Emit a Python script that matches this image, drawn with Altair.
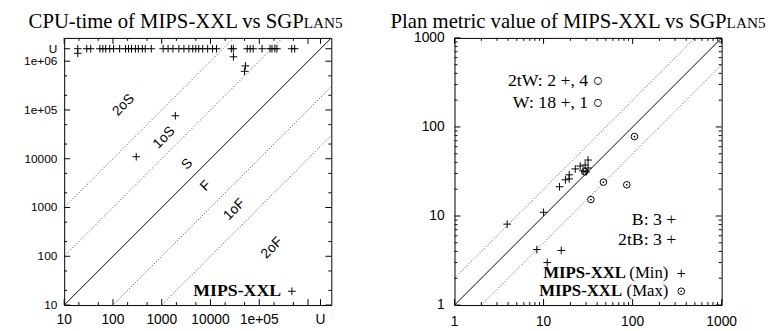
import altair as alt
import pandas as pd

U = 1.8e6

# ---------------- Left panel: CPU-time ----------------
cpu_u_row_x = [19, 29, 35, 54, 62, 71, 86, 103, 137, 181, 208, 240, 289, 332, 400, 460, 610,
               1070, 1350, 1700, 2250, 2850, 3600, 4330, 4990, 5740, 6920, 8740, 11000, 13300,
               26800, 29400, 56600, 65000, 74800, 114000, 166000, 182000, 209000, 230000,
               462000, 532000]
cpu_x = [19, 29500, 52000, 50000, 1900, 300]
cpu_y = [1.45e6, 1.23e6, 8.0e5, 6.2e5, 76000, 11000]
cpu_zone_text = ["2oS", "1oS", "S", "F", "1oF", "2oF"]
cpu_zone_x = [165, 1120, 3320, 7950, 31000, 182000]
cpu_zone_y = [126000, 27000, 7760, 2760, 910, 148]
cpu_factors = [100, 10, 0.1, 0.01]
cpu_domain = [10, 3e6]
cpu_tick_major = [10, 100, 1000, 10000, 1e5, 1e6, U]
cpu_tick_minor = [20, 50, 200, 500, 2000, 5000, 20000, 50000, 2e5, 5e5]
cpu_xlabel_vals = [10, 100, 1000, 10000, 1e5, U]
cpu_xlabels = ["10", "100", "1000", "10000", "1e+05", "U"]
cpu_ylabel_vals = [10, 100, 1000, 10000, 1e5, 1e6, U]
cpu_ylabels = ["10", "100", "1000", "10000", "1e+05", "1e+06", "U"]

# ---------------- Right panel: plan metric ----------------
min_x = [3.9, 10, 8.4, 15.8, 11, 15.1, 17.6, 19.4, 19.4, 22.7, 25.8, 27.8, 29.3, 31.6, 31.6, 30]
min_y = [8.1, 11, 4.2, 4.1, 3.0, 21.3, 25.5, 29.0, 26.1, 33.8, 36.4, 32.1, 37.4, 42.5, 34.6, 31.3]
max_x = [105, 47, 34, 86, 29]
max_y = [78, 24, 15.3, 22.4, 31.5]
plan_factors = [2, 0.5]
plan_domain = [1, 1000]
plan_tick_major = [1, 10, 100, 1000]
plan_tick_minor = [2, 3, 4, 5, 6, 7, 8, 9, 20, 30, 40, 50, 60, 70, 80, 90,
                   200, 300, 400, 500, 600, 700, 800, 900]
plan_label_vals = [1, 10, 100, 1000]
plan_labels = ["1", "10", "100", "1000"]

W = H = 271
SERIF = "Liberation Serif"
SANS = "Liberation Sans"
PLUS = "M-1,0L1,0M0,-1L0,1"


def diag_df(factors, dom):
    rows = []
    for k in factors:
        for x in dom:
            rows.append({"x": x, "y": x * k, "k": str(k)})
    return pd.DataFrame(rows)


def tick_layers(major, minor, xs, ys):
    layers = []
    for vals, ln in ((major, 6), (minor, 3)):
        base = alt.Chart(pd.DataFrame({"v": vals})).mark_rule(color="black", strokeWidth=1)
        yv = alt.Y("v:Q", scale=ys, axis=None)
        xv = alt.X("v:Q", scale=xs, axis=None)
        layers += [
            base.encode(y=yv, x=alt.value(0), x2=alt.value(ln)),
            base.encode(y=yv, x=alt.value(W), x2=alt.value(W - ln)),
            base.encode(x=xv, y=alt.value(H), y2=alt.value(H - ln)),
            base.encode(x=xv, y=alt.value(0), y2=alt.value(ln)),
        ]
    return layers


def label_layers(xvals, xlabels, yvals, ylabels, xs, ys, xsize, ysize, xpad, ypad):
    xl = alt.Chart(pd.DataFrame({"v": xvals, "t": xlabels})).mark_text(
        font=SANS, fontSize=xsize, align="center", baseline="top", color="black"
    ).encode(x=alt.X("v:Q", scale=xs, axis=None), y=alt.value(H + xpad), text="t:N")
    yl = alt.Chart(pd.DataFrame({"v": yvals, "t": ylabels})).mark_text(
        font=SANS, fontSize=ysize, align="right", baseline="middle", color="black"
    ).encode(y=alt.Y("v:Q", scale=ys, axis=None), x=alt.value(-ypad), text="t:N")
    return [xl, yl]


def txt(text, x, y, size, font=SERIF, weight="normal", align="left", baseline="middle"):
    return alt.Chart(pd.DataFrame({"t": [text]})).mark_text(
        font=font, fontSize=size, fontWeight=weight, align=align, baseline=baseline, color="black"
    ).encode(x=alt.value(x), y=alt.value(y), text="t:N")


def title_layers(main, small, split_x):
    return [
        txt(main, split_x, -10, 21, align="right", baseline="alphabetic"),
        txt(small, split_x, -10, 15.5, align="left", baseline="alphabetic"),
    ]


def diag_layers(factors, dom, xs, ys):
    solid = alt.Chart(pd.DataFrame({"x": dom, "y": dom})).mark_line(
        color="black", strokeWidth=1, clip=True
    ).encode(x=alt.X("x:Q", scale=xs, axis=None), y=alt.Y("y:Q", scale=ys, axis=None))
    dotted = alt.Chart(diag_df(factors, dom)).mark_line(
        color="#444444", strokeWidth=1, strokeDash=[1, 2], clip=True
    ).encode(x=alt.X("x:Q", scale=xs, axis=None), y=alt.Y("y:Q", scale=ys, axis=None),
             detail="k:N")
    return [dotted, solid]


# ---- left panel ----
xs1 = alt.Scale(type="log", domain=cpu_domain)
ys1 = alt.Scale(type="log", domain=cpu_domain)
cpu_df = pd.DataFrame({"sgplan": cpu_u_row_x + cpu_x,
                       "mips": [U] * len(cpu_u_row_x) + cpu_y})
cpu_pts = alt.Chart(cpu_df).mark_point(shape=PLUS, size=60, filled=False, color="black",
                                       strokeWidth=1, opacity=1).encode(
    x=alt.X("sgplan:Q", scale=xs1, axis=None), y=alt.Y("mips:Q", scale=ys1, axis=None))
zones = alt.Chart(pd.DataFrame({"t": cpu_zone_text, "x": cpu_zone_x, "y": cpu_zone_y})).mark_text(
    font=SANS, fontSize=14, angle=315, align="center", baseline="middle", color="black"
).encode(x=alt.X("x:Q", scale=xs1, axis=None), y=alt.Y("y:Q", scale=ys1, axis=None), text="t:N")
leg1_pt = alt.Chart(pd.DataFrame({"a": [0]})).mark_point(
    shape=PLUS, size=60, filled=False, color="black", strokeWidth=1, opacity=1
).encode(x=alt.value(231), y=alt.value(257))

left = alt.layer(
    *diag_layers(cpu_factors, cpu_domain, xs1, ys1),
    *tick_layers(cpu_tick_major, cpu_tick_minor, xs1, ys1),
    *label_layers(cpu_xlabel_vals, cpu_xlabels, cpu_ylabel_vals, cpu_ylabels, xs1, ys1,
                  14, 12, 8, 7),
    cpu_pts, zones,
    txt("MIPS-XXL", 220, 257, 18, weight="bold", align="right"),
    leg1_pt,
    *title_layers("CPU-time of MIPS-XXL  vs SGP", "LAN5", 243),
).properties(width=W, height=H)

# ---- right panel ----
xs2 = alt.Scale(type="log", domain=plan_domain)
ys2 = alt.Scale(type="log", domain=plan_domain)
min_pts = alt.Chart(pd.DataFrame({"sgplan": min_x, "mips": min_y})).mark_point(
    shape=PLUS, size=60, filled=False, color="black", strokeWidth=1, opacity=1
).encode(x=alt.X("sgplan:Q", scale=xs2, axis=None), y=alt.Y("mips:Q", scale=ys2, axis=None))
max_df = pd.DataFrame({"sgplan": max_x, "mips": max_y})
max_ring = alt.Chart(max_df).mark_point(
    shape="circle", size=45, filled=False, color="black", strokeWidth=1, opacity=1
).encode(x=alt.X("sgplan:Q", scale=xs2, axis=None), y=alt.Y("mips:Q", scale=ys2, axis=None))
max_dot = alt.Chart(max_df).mark_point(
    shape="circle", size=3, filled=True, color="black", opacity=1
).encode(x=alt.X("sgplan:Q", scale=xs2, axis=None), y=alt.Y("mips:Q", scale=ys2, axis=None))
leg_plus = alt.Chart(pd.DataFrame({"a": [0]})).mark_point(
    shape=PLUS, size=60, filled=False, color="black", strokeWidth=1, opacity=1
).encode(x=alt.value(230), y=alt.value(239))
leg_ring = alt.Chart(pd.DataFrame({"a": [0]})).mark_point(
    shape="circle", size=45, filled=False, color="black", strokeWidth=1, opacity=1
).encode(x=alt.value(230), y=alt.value(257))
leg_dot = alt.Chart(pd.DataFrame({"a": [0]})).mark_point(
    shape="circle", size=3, filled=True, color="black", opacity=1
).encode(x=alt.value(230), y=alt.value(257))

right = alt.layer(
    *diag_layers(plan_factors, plan_domain, xs2, ys2),
    *tick_layers(plan_tick_major, plan_tick_minor, xs2, ys2),
    *label_layers(plan_label_vals, plan_labels, plan_label_vals, plan_labels, xs2, ys2,
                  14, 14, 10, 10),
    min_pts, max_ring, max_dot,
    txt("2tW: 2 +, 4 \u25cb", 151, 44, 18, align="right"),
    txt("W: 18 +, 1 \u25cb", 151, 66, 18, align="right"),
    txt("B: 3 +", 225, 185, 18, align="right"),
    txt("2tB: 3 +", 225, 205, 18, align="right"),
    txt("(Min)", 217, 239, 17, align="right"),
    txt("MIPS-XXL", 174, 239, 17, weight="bold", align="right"),
    txt("(Max)", 217, 257, 17, align="right"),
    txt("MIPS-XXL", 170, 257, 17, weight="bold", align="right"),
    leg_plus, leg_ring, leg_dot,
    *title_layers("Plan metric value of MIPS-XXL  vs SGP", "LAN5", 276),
).properties(width=W, height=H)

chart = alt.hconcat(left, right, spacing=40).configure_view(
    stroke="black", strokeWidth=1
).properties(padding={"left": 14, "top": 0, "right": 0, "bottom": 0})

chart.save("out.html", embed_options={"renderer": "svg", "actions": False})
